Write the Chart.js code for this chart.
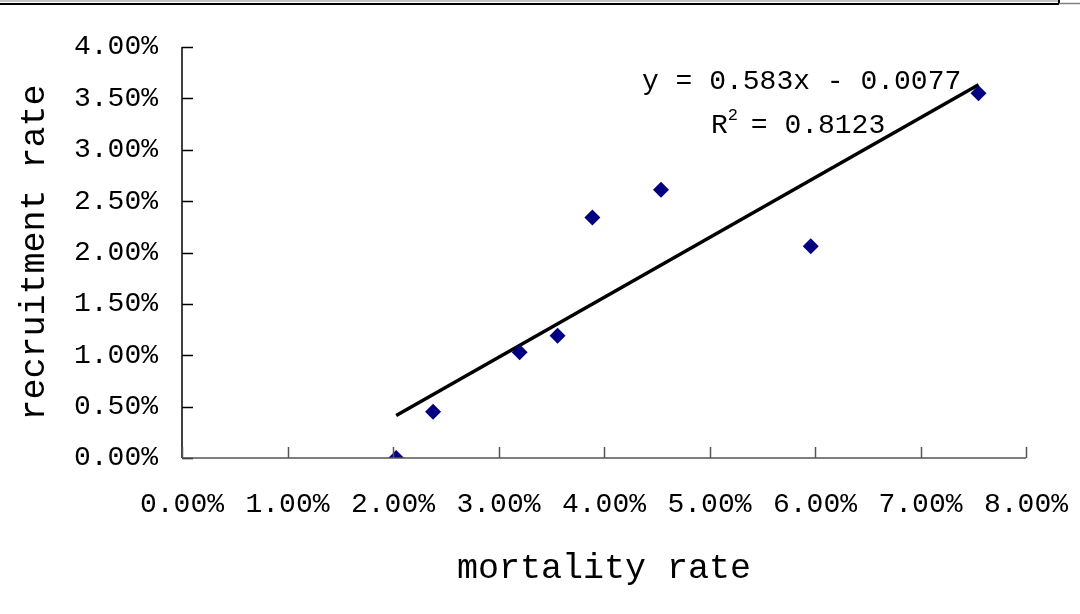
<!DOCTYPE html>
<html>
<head>
<meta charset="utf-8">
<script src="https://cdn.jsdelivr.net/npm/chart.js@4/dist/chart.umd.min.js"></script>
<style>
html,body{margin:0;padding:0;background:#fff;}
#wrap{position:relative;width:1080px;height:614px;}
</style>
</head>
<body>
<div id="wrap"><canvas id="c" width="1080" height="614"></canvas></div>
<script>
// Data (percent values)
const mortalityRate = [2.03, 2.38, 3.20, 3.56, 3.89, 4.54, 5.96, 7.55];
const recruitmentRate = [0.00, 0.45, 1.03, 1.19, 2.34, 2.61, 2.06, 3.55];
const trendSlope = 0.583;
const trendIntercept = -0.0077;
const equationLines = ['y = 0.583x - 0.0077', 'R2 = 0.8123'];
const xTicks = [0,1,2,3,4,5,6,7,8];
const yTicks = [0,0.5,1,1.5,2,2.5,3,3.5,4];

const FONT = '"Liberation Mono", "DejaVu Sans Mono", monospace';

const xMin = Math.min(...mortalityRate), xMax = Math.max(...mortalityRate);
const trendPts = [xMin, xMax].map(x => ({x: x, y: (trendSlope * x / 100 + trendIntercept) * 100}));
const points = mortalityRate.map((x, i) => ({x: x, y: recruitmentRate[i]}));

const decor = {
  id: 'decor',
  beforeDraw(chart) {
    const ctx = chart.ctx;
    ctx.save();
    ctx.fillStyle = '#fff';
    ctx.fillRect(0, 0, chart.width, chart.height);
    ctx.strokeStyle = '#b0b0b0'; ctx.lineWidth = 1.5;
    ctx.beginPath(); ctx.moveTo(0, 1); ctx.lineTo(1059, 1); ctx.stroke();
    ctx.strokeStyle = '#000'; ctx.lineWidth = 2;
    ctx.beginPath(); ctx.moveTo(0, 4); ctx.lineTo(1059, 4); ctx.stroke();
    ctx.beginPath(); ctx.moveTo(1059, 0); ctx.lineTo(1059, 4); ctx.stroke();
    ctx.strokeStyle = '#808080'; ctx.lineWidth = 1.5;
    ctx.beginPath(); ctx.moveTo(1059, 3.5); ctx.lineTo(1080, 3.5); ctx.stroke();
    ctx.restore();
  },
  afterDatasetsDraw(chart) {
    const ctx = chart.ctx;
    const xs = chart.scales.x, ys = chart.scales.y;
    const x0 = xs.getPixelForValue(0), y0 = ys.getPixelForValue(0);
    ctx.save();
    ctx.strokeStyle = '#000'; ctx.lineWidth = 1.5;
    ctx.beginPath(); ctx.moveTo(x0, ys.getPixelForValue(4)); ctx.lineTo(x0, y0); ctx.stroke();
    yTicks.forEach(v => {
      const p = Math.round(ys.getPixelForValue(v)) + 0.5;
      ctx.beginPath(); ctx.moveTo(x0, p); ctx.lineTo(x0 + 11, p); ctx.stroke();
    });
    ctx.strokeStyle = '#555'; ctx.lineWidth = 1.5;
    ctx.beginPath(); ctx.moveTo(x0, y0); ctx.lineTo(xs.getPixelForValue(8), y0); ctx.stroke();
    xTicks.forEach(v => {
      const p = Math.round(xs.getPixelForValue(v)) + 0.5;
      ctx.beginPath(); ctx.moveTo(p, y0); ctx.lineTo(p, y0 - 11); ctx.stroke();
    });
    ctx.fillStyle = '#000';
    ctx.font = '28px ' + FONT;
    ctx.textBaseline = 'alphabetic';
    ctx.textAlign = 'left';
    ctx.fillText(equationLines[0], 642, 89);
    ctx.fillText('R', 711, 133);
    const rw = ctx.measureText('R').width;
    ctx.font = '17px ' + FONT;
    ctx.fillText('2', 711 + rw, 120);
    const sw = ctx.measureText('2').width;
    ctx.font = '28px ' + FONT;
    ctx.fillText(' = 0.8123', 711 + rw + sw - 4, 133);
    ctx.restore();
  }
};

new Chart(document.getElementById('c'), {
  type: 'scatter',
  data: {
    datasets: [
      {
        label: 'trend',
        type: 'line',
        data: trendPts,
        borderColor: '#000',
        borderWidth: 3.5,
        pointRadius: 0,
        fill: false,
        order: 2
      },
      {
        label: 'points',
        data: points,
        pointStyle: 'rectRot',
        pointRadius: 8,
        pointHoverRadius: 8,
        backgroundColor: '#000080',
        borderColor: '#000080',
        borderWidth: 0,
        order: 1
      }
    ]
  },
  options: {
    responsive: false,
    animation: false,
    events: [],
    layout: {padding: {left: 0, right: 54, top: 47, bottom: 0}},
    plugins: {legend: {display: false}, tooltip: {enabled: false}},
    scales: {
      x: {
        type: 'linear', min: 0, max: 8,
        afterBuildTicks: s => { s.ticks = xTicks.map(v => ({value: v})); },
        afterFit: s => { s.height = 156; s.paddingLeft = 0; s.paddingRight = 0; },
        grid: {display: false, drawTicks: false},
        border: {display: false},
        ticks: {
          color: '#000', padding: 30, maxRotation: 0, autoSkip: false,
          font: {family: FONT, size: 28},
          callback: v => v.toFixed(2) + '%'
        },
        title: {
          display: true, text: 'mortality rate', color: '#000',
          font: {family: FONT, size: 35}, padding: {top: 14, bottom: 24}
        }
      },
      y: {
        type: 'linear', min: 0, max: 4,
        afterBuildTicks: s => { s.ticks = yTicks.map(v => ({value: v})); },
        afterFit: s => { s.width = 182; s.paddingTop = 0; s.paddingBottom = 0; },
        grid: {display: false, drawTicks: false},
        border: {display: false},
        ticks: {
          color: '#000', padding: 24, autoSkip: false,
          font: {family: FONT, size: 28},
          callback: v => v.toFixed(2) + '%'
        },
        title: {
          display: true, text: 'recruitment rate', color: '#000',
          font: {family: FONT, size: 35}, padding: {top: 14, bottom: 0}
        }
      }
    }
  },
  plugins: [decor]
});
</script>
</body>
</html>
